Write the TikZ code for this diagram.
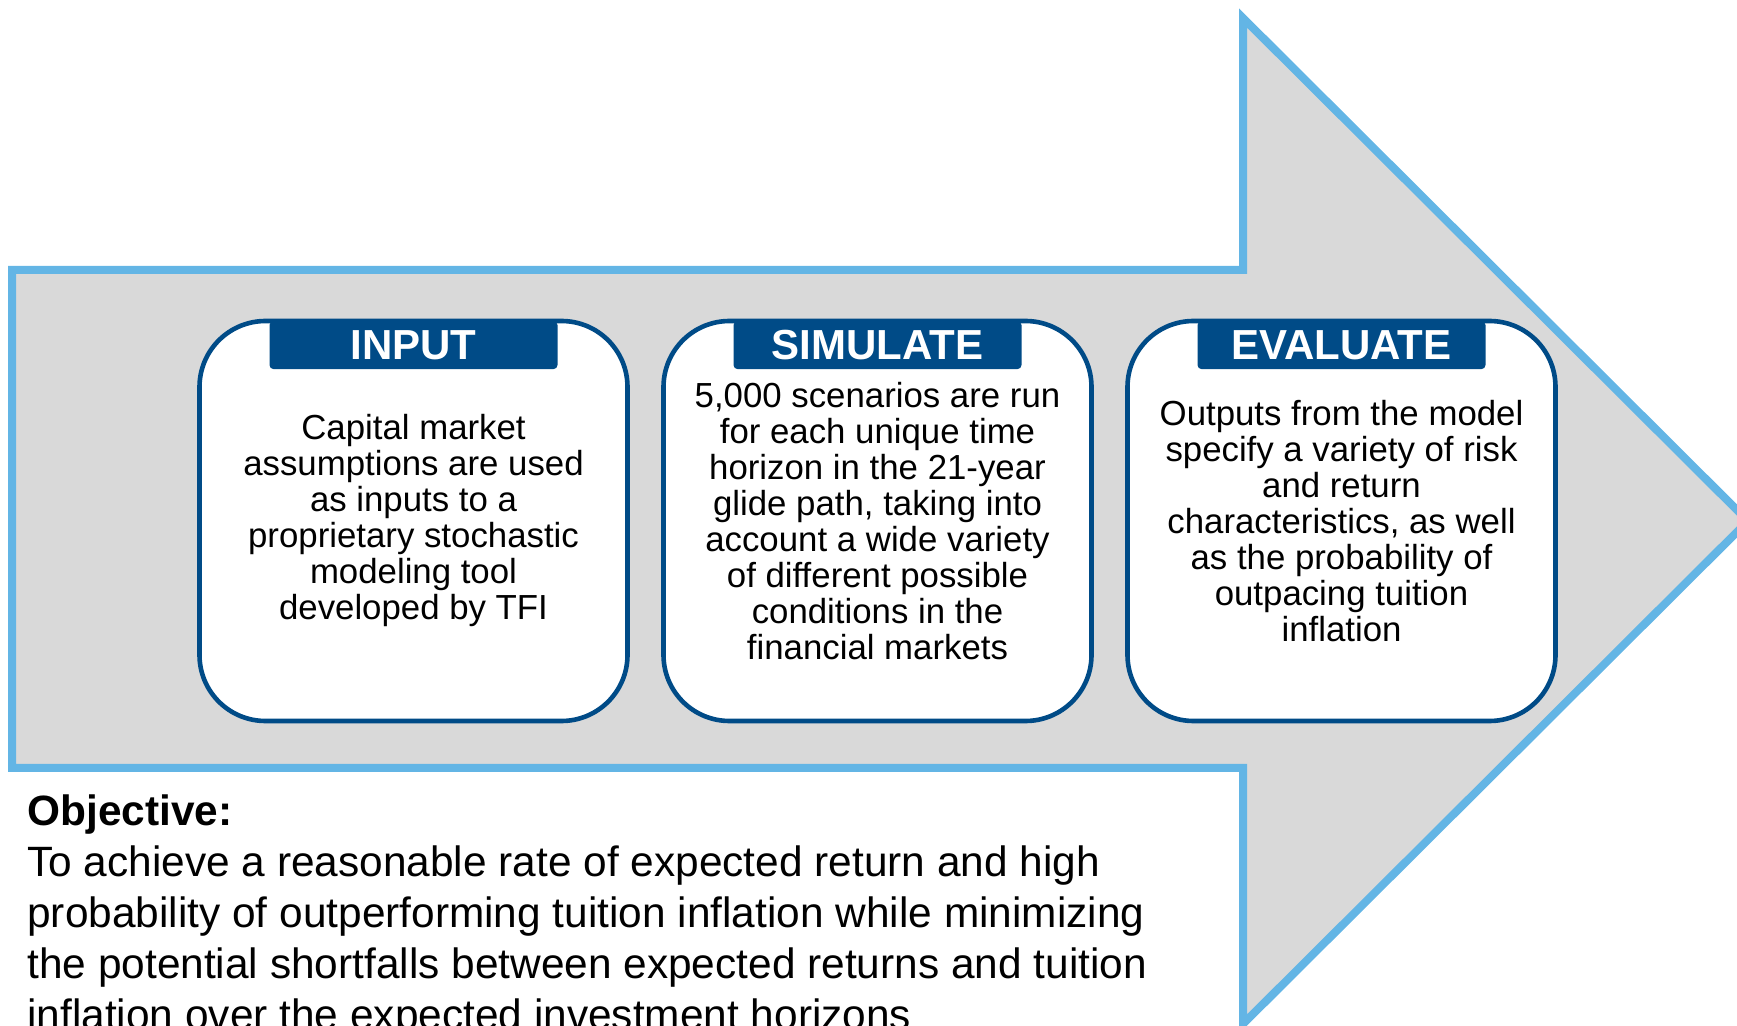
\documentclass[tikz,border=0pt]{standalone}
\usepackage{fontspec}
\setmainfont{Liberation Sans}
\usetikzlibrary{positioning}
\definecolor{arrowblue}{RGB}{99,181,229}
\definecolor{stageblue}{RGB}{0,75,135}
\definecolor{arrowgrey}{RGB}{217,217,217}

\begin{document}
\begin{tikzpicture}[x=0.5pt,y=-0.5pt,
  bigarrow/.style={draw=arrowblue,fill=arrowgrey,line width=4pt},
  stagebox/.style={draw=stageblue,line width=2.3pt,fill=white,rounded corners=33pt,
    minimum width=214pt,minimum height=200pt,align=center,inner sep=0pt,
    font=\fontsize{17.4}{18}\selectfont},
  stagetab/.style={fill=stageblue,text=white,rounded corners=2pt,inner sep=0pt,
    minimum width=144pt,minimum height=24pt,font=\fontsize{21}{24}\selectfont\bfseries}]
\useasboundingbox (0,0) rectangle (1737,1026);
\draw[bigarrow] (12,270) -- (1243,270) -- (1243,18) -- (1748,521) -- (1243,1024)
  -- (1243,768) -- (12,768) -- cycle;
\node[stagebox] (input) at (413.5,521) {Capital market\\assumptions are used\\as inputs to a\\proprietary stochastic\\modeling tool\\developed by TFI};
\node[stagebox,right=15.7pt of input] (simulate) {5,000 scenarios are run\\for each unique time\\horizon in the 21-year\\glide path, taking into\\account a wide variety\\of different possible\\conditions in the\\financial markets};
\node[stagebox,right=15.7pt of simulate] (evaluate) {Outputs from the model\\specify a variety of risk\\and return\\characteristics, as well\\as the probability of\\outpacing tuition\\inflation};
\node[stagetab,anchor=north] (inputtab) at ([yshift=-1pt]input.north) {INPUT};
\node[stagetab,anchor=north] (simulatetab) at ([yshift=-1pt]simulate.north) {SIMULATE};
\node[stagetab,anchor=north] (evaluatetab) at ([yshift=-1pt]evaluate.north) {EVALUATE};
\node[anchor=base west,align=left,inner sep=0pt,font=\fontsize{21.2}{25.5}\selectfont] (objective) at (27,1029)
  {\textbf{Objective:}\\To achieve a reasonable rate of expected return and high\\probability of outperforming tuition inflation while minimizing\\the potential shortfalls between expected returns and tuition\\inflation over the expected investment horizons};
\end{tikzpicture}
\end{document}
